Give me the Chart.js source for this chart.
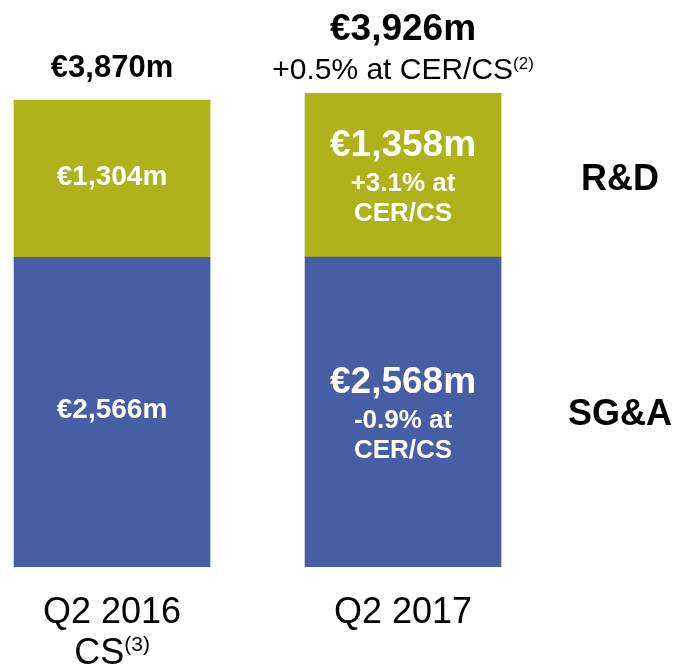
<!DOCTYPE html>
<html>
<head>
<meta charset="utf-8">
<script src="https://cdn.jsdelivr.net/npm/chart.js@4.4.0/dist/chart.umd.min.js"></script>
<style>
  html, body { margin: 0; padding: 0; background: #fff; overflow: hidden; }
  #wrap { position: relative; width: 676px; height: 671px; }
</style>
</head>
<body>
<div id="wrap"><canvas id="opexChart"></canvas></div>
<script>
// data
var categories = ['Q2 2016', 'Q2 2017'];
var categoryLine2 = ['CS', ''];
var categorySup = ['(3)', ''];
var sgaValues = [2566, 2568];
var rdValues = [1304, 1358];
var totalValues = [3870, 3926];
var sgaGrowth = ['', '-0.9% at'];
var rdGrowth = ['', '+3.1% at'];
var totalGrowth = ['', '+0.5% at CER/CS'];
var totalGrowthSup = ['', '(2)'];
var seriesNames = ['SG&A', 'R&D'];

var FONT = '"Liberation Sans", Arial, Helvetica, sans-serif';

function fmt(v) {
    return '\u20AC' + v.toLocaleString('en-US') + 'm';
}

// text with a small raised note after it, centred on x
function textWithSup(ctx, main, sup, x, y, size, supSize, weight) {
    ctx.font = weight + ' ' + size + 'px ' + FONT;
    var w1 = ctx.measureText(main).width;
    ctx.font = weight + ' ' + supSize + 'px ' + FONT;
    var w2 = sup ? ctx.measureText(sup).width : 0;
    var left = x - (w1 + w2) / 2;
    ctx.textAlign = 'left';
    ctx.font = weight + ' ' + size + 'px ' + FONT;
    ctx.fillText(main, left, y);
    if (sup) {
        ctx.font = weight + ' ' + supSize + 'px ' + FONT;
        ctx.fillText(sup, left + w1, y - size * 0.36);
    }
}

function line(ctx, txt, x, y, size, weight) {
    ctx.font = weight + ' ' + size + 'px ' + FONT;
    ctx.textAlign = 'center';
    ctx.fillText(txt, x, y);
}

var labelPlugin = {
    id: 'slideLabels',
    afterDatasetsDraw: function(chart) {
        var ctx = chart.ctx;
        var sgaMeta = chart.getDatasetMeta(0);
        var rdMeta = chart.getDatasetMeta(1);
        ctx.save();
        ctx.textBaseline = 'alphabetic';

        categories.forEach(function(cat, i) {
            var sga = sgaMeta.data[i];
            var rd = rdMeta.data[i];
            var x = sga.x;
            var sgaMid = (sga.y + sga.base) / 2;
            var rdMid = (rd.y + rd.base) / 2;
            var top = rd.y;
            var big = i === categories.length - 1;

            // values inside the bars
            ctx.fillStyle = '#ffffff';
            if (big) {
                line(ctx, fmt(rdValues[i]), x, rdMid - 19, 37, 'bold');
                line(ctx, rdGrowth[i], x, rdMid + 16, 26, 'bold');
                line(ctx, 'CER/CS', x, rdMid + 46, 26, 'bold');
                line(ctx, fmt(sgaValues[i]), x, sgaMid - 19, 37, 'bold');
                line(ctx, sgaGrowth[i], x, sgaMid + 16, 26, 'bold');
                line(ctx, 'CER/CS', x, sgaMid + 46, 26, 'bold');
            } else {
                line(ctx, fmt(rdValues[i]), x, rdMid + 6, 28, 'bold');
                line(ctx, fmt(sgaValues[i]), x, sgaMid + 6, 28, 'bold');
            }

            // totals above the bars
            ctx.fillStyle = '#000000';
            if (totalGrowth[i]) {
                line(ctx, fmt(totalValues[i]), x, top - 53, 37, 'bold');
                textWithSup(ctx, totalGrowth[i], totalGrowthSup[i], x, top - 14, 30, 17, 'normal');
            } else {
                line(ctx, fmt(totalValues[i]), x, top - 23, 31, 'bold');
            }

            // category labels under the bars
            var bottom = chart.chartArea.bottom;
            line(ctx, cat, x, bottom + 56, 36, 'normal');
            if (categoryLine2[i]) {
                textWithSup(ctx, categoryLine2[i], categorySup[i], x, bottom + 97, 36, 21, 'normal');
            }
        });

        // series names on the right, lined up with the last bar
        var last = categories.length - 1;
        var s = sgaMeta.data[last], r = rdMeta.data[last];
        ctx.fillStyle = '#000000';
        line(ctx, seriesNames[1], 620, (r.y + r.base) / 2 + 15, 36, 'bold');
        line(ctx, seriesNames[0], 620, (s.y + s.base) / 2 + 13, 36, 'bold');
        ctx.restore();
    }
};

var sgaPoints = sgaValues.map(function(v, i) { return { x: i, y: v }; });
var rdPoints = rdValues.map(function(v, i) { return { x: i, y: v }; });

var ctx = document.getElementById('opexChart');
window.opexChart = new Chart(ctx, {
    type: 'bar',
    data: {
        datasets: [{
            label: seriesNames[0],
            data: sgaPoints,
            backgroundColor: '#475DA4',
            borderWidth: 0,
            barThickness: 196
        }, {
            label: seriesNames[1],
            data: rdPoints,
            backgroundColor: '#AEB31A',
            borderWidth: 0,
            barThickness: 196
        }]
    },
    options: {
        responsive: true,
        maintainAspectRatio: false,
        animation: false,
        layout: { padding: { top: 0, bottom: 104, left: 0, right: 0 } },
        plugins: {
            legend: { display: false },
            tooltip: { enabled: false },
            title: { display: false }
        },
        scales: {
            x: {
                type: 'linear',
                stacked: true,
                display: false,
                offset: false,
                grid: { offset: false },
                min: -0.385,
                max: 1.938
            },
            y: {
                stacked: true,
                display: false,
                min: 0,
                max: 4700
            }
        }
    },
    plugins: [labelPlugin]
});
</script>
</body>
</html>
